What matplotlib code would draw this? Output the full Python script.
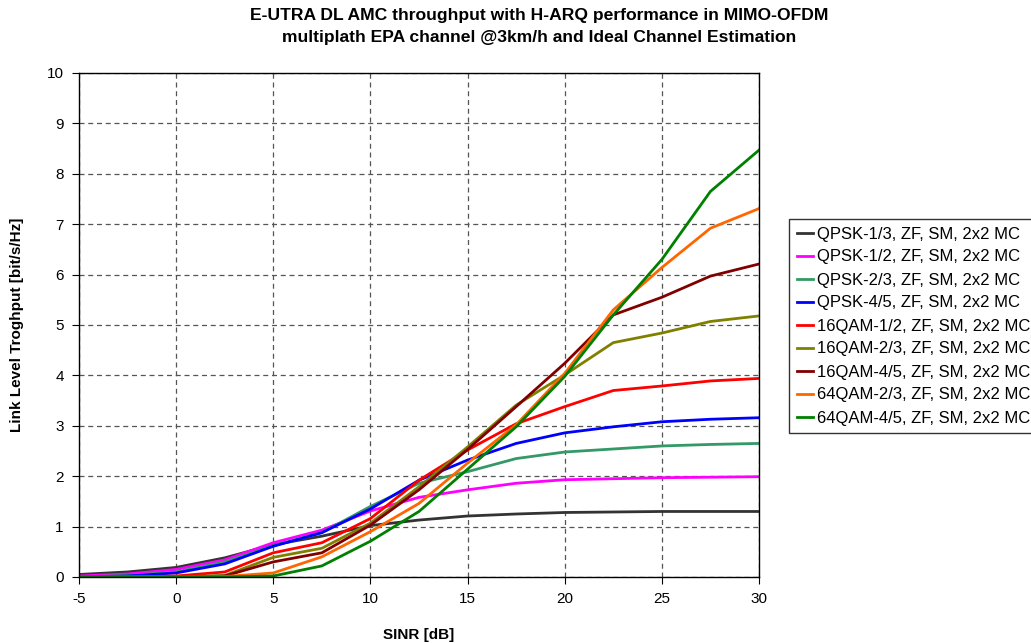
import matplotlib
matplotlib.use("Agg")
import matplotlib.pyplot as plt

plt.rcParams['font.family'] = ['Liberation Sans', 'DejaVu Sans']
plt.rcParams['axes.unicode_minus'] = False

sinr = [-5, -2.5, 0, 2.5, 5, 7.5, 10, 12.5, 15, 17.5, 20, 22.5, 25, 27.5, 30]

qpsk_13 = [0.05, 0.10, 0.19, 0.38, 0.64, 0.81, 1.02, 1.13, 1.21, 1.25, 1.28, 1.29, 1.30, 1.30, 1.30]
qpsk_12 = [0.02, 0.06, 0.15, 0.34, 0.68, 0.93, 1.31, 1.58, 1.73, 1.86, 1.93, 1.95, 1.97, 1.98, 1.99]
qpsk_23 = [0.00, 0.03, 0.10, 0.30, 0.62, 0.88, 1.40, 1.86, 2.09, 2.35, 2.48, 2.54, 2.60, 2.63, 2.65]
qpsk_45 = [0.00, 0.02, 0.08, 0.26, 0.61, 0.88, 1.35, 1.92, 2.32, 2.65, 2.86, 2.98, 3.08, 3.13, 3.16]
qam16_12 = [0.00, 0.00, 0.02, 0.10, 0.48, 0.68, 1.16, 1.92, 2.52, 3.04, 3.38, 3.70, 3.79, 3.89, 3.94]
qam16_23 = [0.00, 0.00, 0.00, 0.03, 0.39, 0.57, 1.07, 1.79, 2.58, 3.41, 4.01, 4.65, 4.84, 5.07, 5.18]
qam16_45 = [0.00, 0.00, 0.00, 0.02, 0.30, 0.48, 1.03, 1.73, 2.53, 3.38, 4.24, 5.20, 5.55, 5.97, 6.21]
qam64_23 = [0.00, 0.00, 0.00, 0.01, 0.08, 0.40, 0.90, 1.46, 2.26, 3.02, 4.04, 5.30, 6.14, 6.92, 7.31]
qam64_45 = [0.00, 0.00, 0.00, 0.00, 0.02, 0.22, 0.71, 1.30, 2.14, 2.98, 3.98, 5.20, 6.30, 7.65, 8.47]

series = [
    ("QPSK-1/3, ZF, SM, 2x2 MC", qpsk_13, "#333333"),
    ("QPSK-1/2, ZF, SM, 2x2 MC", qpsk_12, "#FF00FF"),
    ("QPSK-2/3, ZF, SM, 2x2 MC", qpsk_23, "#339966"),
    ("QPSK-4/5, ZF, SM, 2x2 MC", qpsk_45, "#0000FF"),
    ("16QAM-1/2, ZF, SM, 2x2 MC", qam16_12, "#FF0000"),
    ("16QAM-2/3, ZF, SM, 2x2 MC", qam16_23, "#808000"),
    ("16QAM-4/5, ZF, SM, 2x2 MC", qam16_45, "#800000"),
    ("64QAM-2/3, ZF, SM, 2x2 MC", qam64_23, "#FF6600"),
    ("64QAM-4/5, ZF, SM, 2x2 MC", qam64_45, "#008000"),
]

fig = plt.figure(figsize=(10.31, 6.43), dpi=100)
ax = fig.add_axes([79/1031, 66/643, 680/1031, 504/643])

for label, vals, col in series:
    ax.plot(sinr, vals, color=col, lw=2.0, label=label)

ax.set_xlim(-5, 30)
ax.set_ylim(0, 10)
ax.set_xticks(range(-5, 31, 5))
ax.set_yticks(range(0, 11))
ax.grid(True, color="#555555", linestyle=(0, (4, 3)), linewidth=0.9)
ax.tick_params(labelsize=11, length=5, direction='out', pad=6)
for s in ax.spines.values():
    s.set_color("black")
    s.set_linewidth(1.0)

ax.set_xlabel("SINR [dB]", fontsize=11, fontweight='bold', labelpad=16)
ax.set_ylabel("Link Level Troghput [bit/s/Hz]", fontsize=11, fontweight='bold', labelpad=16)

fig.suptitle("E-UTRA DL AMC throughput with H-ARQ performance in MIMO-OFDM\n"
             "multiplath EPA channel @3km/h and Ideal Channel Estimation",
             fontsize=12.6, fontweight='bold', x=539/1031, y=1 - 8/643,
             va='top', linespacing=1.6)

leg = ax.legend(loc='upper left', bbox_to_anchor=(789/1031, 1 - 219/643),
                bbox_transform=fig.transFigure, fontsize=12, frameon=True,
                fancybox=False, handlelength=1.0, handletextpad=0.25,
                borderpad=0.45, labelspacing=0.48, borderaxespad=0)
leg.get_frame().set_edgecolor("black")
leg.get_frame().set_linewidth(1.0)

fig.savefig("out.png", dpi=100)
